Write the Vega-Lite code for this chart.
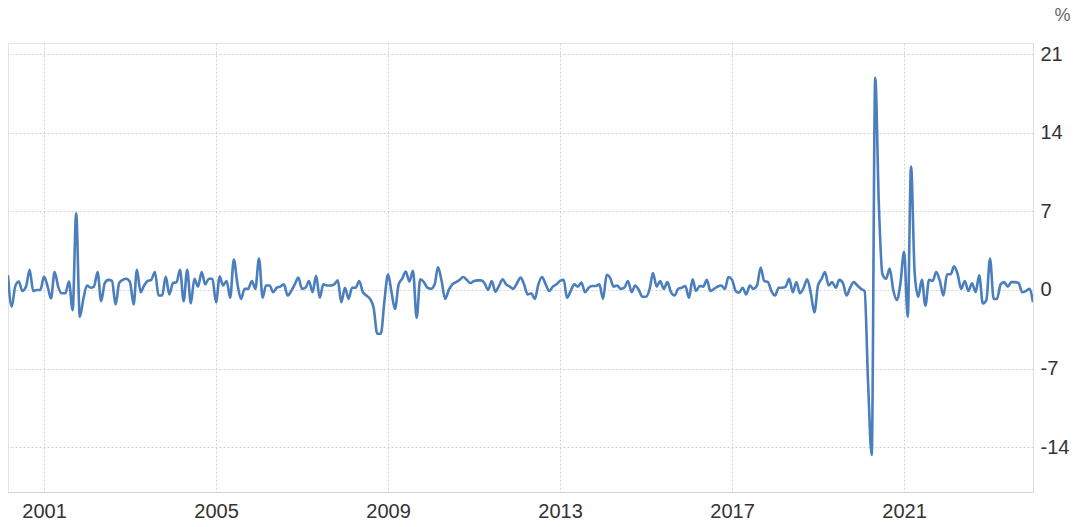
{
  "$schema": "https://vega.github.io/schema/vega-lite/v6.json",
  "width": 1025,
  "height": 449,
  "autosize": {"type": "none"},
  "padding": {"left": 8, "top": 43, "right": 45, "bottom": 35},
  "background": "white",
  "config": {
    "view": {"stroke": "#e3e3e3", "strokeWidth": 1},
    "font": "Liberation Sans"
  },
  "data": {
    "values": [
      {"date":"2000-03-01","value":1.3},{"date":"2000-04-01","value":-1.5},{"date":"2000-05-01","value":0.3},{"date":"2000-06-01","value":0.75},{"date":"2000-07-01","value":-0.1},{"date":"2000-08-01","value":0.3},{"date":"2000-09-01","value":1.8},{"date":"2000-10-01","value":-0.1},{"date":"2000-11-01","value":0.0},{"date":"2000-12-01","value":0.0},
      {"date":"2001-01-01","value":1.2},{"date":"2001-02-01","value":0.3},{"date":"2001-03-01","value":-0.75},{"date":"2001-04-01","value":1.6},{"date":"2001-05-01","value":0.3},{"date":"2001-06-01","value":-0.3},{"date":"2001-07-01","value":-0.3},{"date":"2001-08-01","value":0.75},{"date":"2001-09-01","value":-1.8},{"date":"2001-10-01","value":6.8},{"date":"2001-11-01","value":-2.4},{"date":"2001-12-01","value":-0.8},
      {"date":"2002-01-01","value":0.4},{"date":"2002-02-01","value":0.2},{"date":"2002-03-01","value":0.3},{"date":"2002-04-01","value":1.6},{"date":"2002-05-01","value":-1.0},{"date":"2002-06-01","value":0.6},{"date":"2002-07-01","value":0.9},{"date":"2002-08-01","value":0.8},{"date":"2002-09-01","value":-1.3},{"date":"2002-10-01","value":0.6},{"date":"2002-11-01","value":0.9},{"date":"2002-12-01","value":1.0},
      {"date":"2003-01-01","value":0.7},{"date":"2003-02-01","value":-1.3},{"date":"2003-03-01","value":1.8},{"date":"2003-04-01","value":-0.2},{"date":"2003-05-01","value":0.4},{"date":"2003-06-01","value":0.8},{"date":"2003-07-01","value":0.9},{"date":"2003-08-01","value":1.6},{"date":"2003-09-01","value":-0.5},{"date":"2003-10-01","value":-0.5},{"date":"2003-11-01","value":1.2},{"date":"2003-12-01","value":-0.4},
      {"date":"2004-01-01","value":0.6},{"date":"2004-02-01","value":0.7},{"date":"2004-03-01","value":1.8},{"date":"2004-04-01","value":-1.0},{"date":"2004-05-01","value":1.8},{"date":"2004-06-01","value":-1.2},{"date":"2004-07-01","value":1.0},{"date":"2004-08-01","value":0.3},{"date":"2004-09-01","value":1.6},{"date":"2004-10-01","value":0.5},{"date":"2004-11-01","value":1.0},{"date":"2004-12-01","value":1.0},
      {"date":"2005-01-01","value":-1.1},{"date":"2005-02-01","value":1.2},{"date":"2005-03-01","value":0.4},{"date":"2005-04-01","value":0.8},{"date":"2005-05-01","value":-0.7},{"date":"2005-06-01","value":2.7},{"date":"2005-07-01","value":0.6},{"date":"2005-08-01","value":-0.8},{"date":"2005-09-01","value":0.1},{"date":"2005-10-01","value":0.1},{"date":"2005-11-01","value":0.8},{"date":"2005-12-01","value":0.1},
      {"date":"2006-01-01","value":2.8},{"date":"2006-02-01","value":-0.7},{"date":"2006-03-01","value":0.4},{"date":"2006-04-01","value":0.4},{"date":"2006-05-01","value":-0.2},{"date":"2006-06-01","value":0.2},{"date":"2006-07-01","value":0.3},{"date":"2006-08-01","value":0.5},{"date":"2006-09-01","value":-0.5},{"date":"2006-10-01","value":-0.1},{"date":"2006-11-01","value":0.5},{"date":"2006-12-01","value":1.1},
      {"date":"2007-01-01","value":0.1},{"date":"2007-02-01","value":0.2},{"date":"2007-03-01","value":0.8},{"date":"2007-04-01","value":-0.2},{"date":"2007-05-01","value":1.25},{"date":"2007-06-01","value":-0.7},{"date":"2007-07-01","value":0.5},{"date":"2007-08-01","value":0.4},{"date":"2007-09-01","value":0.4},{"date":"2007-10-01","value":0.5},{"date":"2007-11-01","value":0.85},{"date":"2007-12-01","value":-1.1},
      {"date":"2008-01-01","value":0.2},{"date":"2008-02-01","value":-0.8},{"date":"2008-03-01","value":0.2},{"date":"2008-04-01","value":0.2},{"date":"2008-05-01","value":0.8},{"date":"2008-06-01","value":-0.2},{"date":"2008-07-01","value":-0.5},{"date":"2008-08-01","value":-0.8},{"date":"2008-09-01","value":-1.6},{"date":"2008-10-01","value":-3.9},{"date":"2008-11-01","value":-3.9},{"date":"2008-12-01","value":-1.0},
      {"date":"2009-01-01","value":1.4},{"date":"2009-02-01","value":-0.3},{"date":"2009-03-01","value":-1.7},{"date":"2009-04-01","value":0.5},{"date":"2009-05-01","value":1.0},{"date":"2009-06-01","value":1.65},{"date":"2009-07-01","value":0.75},{"date":"2009-08-01","value":1.7},{"date":"2009-09-01","value":-2.5},{"date":"2009-10-01","value":0.95},{"date":"2009-11-01","value":0.7},{"date":"2009-12-01","value":0.2},
      {"date":"2010-01-01","value":0.1},{"date":"2010-02-01","value":0.5},{"date":"2010-03-01","value":2.05},{"date":"2010-04-01","value":0.8},{"date":"2010-05-01","value":-0.8},{"date":"2010-06-01","value":0.0},{"date":"2010-07-01","value":0.5},{"date":"2010-08-01","value":0.7},{"date":"2010-09-01","value":0.9},{"date":"2010-10-01","value":1.15},{"date":"2010-11-01","value":0.9},{"date":"2010-12-01","value":0.6},
      {"date":"2011-01-01","value":0.8},{"date":"2011-02-01","value":0.85},{"date":"2011-03-01","value":0.85},{"date":"2011-04-01","value":0.6},{"date":"2011-05-01","value":0.0},{"date":"2011-06-01","value":0.8},{"date":"2011-07-01","value":-0.15},{"date":"2011-08-01","value":0.35},{"date":"2011-09-01","value":0.95},{"date":"2011-10-01","value":0.5},{"date":"2011-11-01","value":0.3},{"date":"2011-12-01","value":0.1},
      {"date":"2012-01-01","value":0.6},{"date":"2012-02-01","value":1.1},{"date":"2012-03-01","value":0.5},{"date":"2012-04-01","value":-0.4},{"date":"2012-05-01","value":-0.3},{"date":"2012-06-01","value":-0.8},{"date":"2012-07-01","value":0.5},{"date":"2012-08-01","value":1.15},{"date":"2012-09-01","value":0.5},{"date":"2012-10-01","value":-0.1},{"date":"2012-11-01","value":0.3},{"date":"2012-12-01","value":0.5},
      {"date":"2013-01-01","value":0.8},{"date":"2013-02-01","value":0.9},{"date":"2013-03-01","value":-0.7},{"date":"2013-04-01","value":-0.1},{"date":"2013-05-01","value":0.5},{"date":"2013-06-01","value":0.3},{"date":"2013-07-01","value":0.65},{"date":"2013-08-01","value":-0.2},{"date":"2013-09-01","value":0.2},{"date":"2013-10-01","value":0.35},{"date":"2013-11-01","value":0.35},{"date":"2013-12-01","value":0.5},
      {"date":"2014-01-01","value":-0.8},{"date":"2014-02-01","value":1.35},{"date":"2014-03-01","value":1.1},{"date":"2014-04-01","value":0.3},{"date":"2014-05-01","value":0.4},{"date":"2014-06-01","value":0.1},{"date":"2014-07-01","value":0.2},{"date":"2014-08-01","value":0.8},{"date":"2014-09-01","value":-0.2},{"date":"2014-10-01","value":0.4},{"date":"2014-11-01","value":0.0},{"date":"2014-12-01","value":-0.6},
      {"date":"2015-01-01","value":-0.6},{"date":"2015-02-01","value":0.1},{"date":"2015-03-01","value":1.5},{"date":"2015-04-01","value":0.3},{"date":"2015-05-01","value":0.8},{"date":"2015-06-01","value":0.1},{"date":"2015-07-01","value":0.7},{"date":"2015-08-01","value":-0.2},{"date":"2015-09-01","value":-0.5},{"date":"2015-10-01","value":0.1},{"date":"2015-11-01","value":0.2},{"date":"2015-12-01","value":0.35},
      {"date":"2016-01-01","value":-0.7},{"date":"2016-02-01","value":0.95},{"date":"2016-03-01","value":-0.1},{"date":"2016-04-01","value":0.35},{"date":"2016-05-01","value":0.3},{"date":"2016-06-01","value":0.9},{"date":"2016-07-01","value":-0.1},{"date":"2016-08-01","value":0.1},{"date":"2016-09-01","value":0.3},{"date":"2016-10-01","value":0.4},{"date":"2016-11-01","value":0.1},{"date":"2016-12-01","value":1.15},
      {"date":"2017-01-01","value":0.9},{"date":"2017-02-01","value":-0.1},{"date":"2017-03-01","value":-0.25},{"date":"2017-04-01","value":0.2},{"date":"2017-05-01","value":-0.4},{"date":"2017-06-01","value":0.4},{"date":"2017-07-01","value":0.1},{"date":"2017-08-01","value":0.4},{"date":"2017-09-01","value":2.0},{"date":"2017-10-01","value":0.8},{"date":"2017-11-01","value":0.7},{"date":"2017-12-01","value":-0.1},
      {"date":"2018-01-01","value":-0.5},{"date":"2018-02-01","value":0.2},{"date":"2018-03-01","value":0.2},{"date":"2018-04-01","value":0.3},{"date":"2018-05-01","value":1.0},{"date":"2018-06-01","value":-0.2},{"date":"2018-07-01","value":0.7},{"date":"2018-08-01","value":-0.3},{"date":"2018-09-01","value":0.2},{"date":"2018-10-01","value":0.95},{"date":"2018-11-01","value":-0.3},{"date":"2018-12-01","value":-2.0},
      {"date":"2019-01-01","value":0.4},{"date":"2019-02-01","value":1.0},{"date":"2019-03-01","value":1.6},{"date":"2019-04-01","value":0.4},{"date":"2019-05-01","value":0.7},{"date":"2019-06-01","value":0.2},{"date":"2019-07-01","value":0.9},{"date":"2019-08-01","value":0.6},{"date":"2019-09-01","value":-0.5},{"date":"2019-10-01","value":0.2},{"date":"2019-11-01","value":0.7},{"date":"2019-12-01","value":0.4},
      {"date":"2020-01-01","value":0.1},{"date":"2020-02-01","value":-0.1},{"date":"2020-03-01","value":-8.2},{"date":"2020-04-01","value":-14.7},{"date":"2020-05-01","value":18.9},{"date":"2020-06-01","value":7.5},{"date":"2020-07-01","value":1.4},{"date":"2020-08-01","value":1.0},{"date":"2020-09-01","value":1.9},{"date":"2020-10-01","value":0.0},{"date":"2020-11-01","value":-0.9},{"date":"2020-12-01","value":0.6},
      {"date":"2021-01-01","value":3.4},{"date":"2021-02-01","value":-2.4},{"date":"2021-03-01","value":11.0},{"date":"2021-04-01","value":1.5},{"date":"2021-05-01","value":-0.6},{"date":"2021-06-01","value":0.9},{"date":"2021-07-01","value":-1.4},{"date":"2021-08-01","value":0.9},{"date":"2021-09-01","value":0.8},{"date":"2021-10-01","value":1.6},{"date":"2021-11-01","value":0.8},{"date":"2021-12-01","value":-0.5},
      {"date":"2022-01-01","value":1.4},{"date":"2022-02-01","value":1.4},{"date":"2022-03-01","value":2.1},{"date":"2022-04-01","value":1.4},{"date":"2022-05-01","value":0.1},{"date":"2022-06-01","value":0.8},{"date":"2022-07-01","value":-0.1},{"date":"2022-08-01","value":0.6},{"date":"2022-09-01","value":-0.2},{"date":"2022-10-01","value":1.3},{"date":"2022-11-01","value":-1.2},{"date":"2022-12-01","value":-0.9},
      {"date":"2023-01-01","value":2.8},{"date":"2023-02-01","value":-0.8},{"date":"2023-03-01","value":-0.8},{"date":"2023-04-01","value":0.5},{"date":"2023-05-01","value":0.7},{"date":"2023-06-01","value":0.3},{"date":"2023-07-01","value":0.7},{"date":"2023-08-01","value":0.7},{"date":"2023-09-01","value":0.6},{"date":"2023-10-01","value":-0.2},{"date":"2023-11-01","value":-0.1},{"date":"2023-12-01","value":0.1},
      {"date":"2024-01-01","value":-1.1}
    ]
  },
  "mark": {"type": "line", "color": "#4a7ebd", "strokeWidth": 2.6, "interpolate": "monotone", "clip": true},
  "encoding": {
    "x": {
      "field": "date",
      "type": "temporal",
      "scale": {"domain": [{"year": 2000, "month": 3, "date": 1}, {"year": 2024, "month": 1, "date": 1}], "nice": false},
      "axis": {
        "title": null,
        "values": [{"year": 2001, "month": 1, "date": 1}, {"year": 2005, "month": 1, "date": 1}, {"year": 2009, "month": 1, "date": 1}, {"year": 2013, "month": 1, "date": 1}, {"year": 2017, "month": 1, "date": 1}, {"year": 2021, "month": 1, "date": 1}],
        "format": "%Y",
        "ticks": false,
        "labelPadding": 9,
        "labelFontSize": 20,
        "labelColor": "#333333",
        "labelFont": "Liberation Sans",
        "labelFlush": false,
        "domainColor": "#d0d0d0",
        "grid": true,
        "gridColor": "#d2d2d2",
        "gridDash": [2, 2],
        "gridWidth": 1
      }
    },
    "y": {
      "field": "value",
      "type": "quantitative",
      "scale": {"domain": [-18, 22], "nice": false, "zero": false},
      "axis": {
        "orient": "right",
        "title": "%",
        "titleAngle": 0,
        "titleX": 29,
        "titleY": -28,
        "titleAlign": "center",
        "titleBaseline": "middle",
        "titleFontSize": 18,
        "titleFontWeight": "normal",
        "titleColor": "#666666",
        "titleFont": "Liberation Sans",
        "values": [-14, -7, 0, 7, 14, 21],
        "labelExpr": "datum.value < 0 ? '-' + abs(datum.value) : '' + datum.value",
        "ticks": false,
        "labelPadding": 7,
        "labelFontSize": 20,
        "labelColor": "#333333",
        "labelFont": "Liberation Sans",
        "domainColor": "#dcdcdc",
        "grid": true,
        "gridColor": "#d2d2d2",
        "gridDash": [2, 2],
        "gridWidth": 1
      }
    }
  }
}
